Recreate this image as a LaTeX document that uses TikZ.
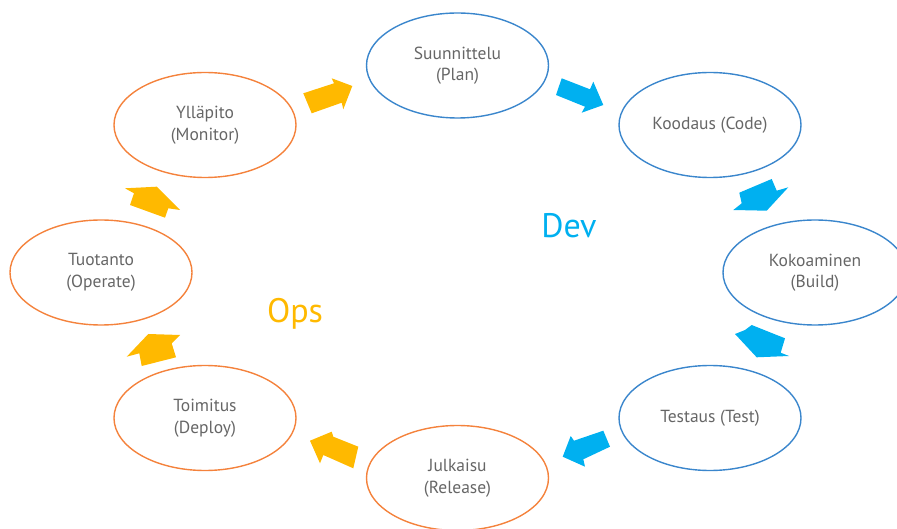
\documentclass[tikz,border=0pt]{standalone}
\usepackage{fontspec}
\setmainfont{PT Sans}
\definecolor{devline}{HTML}{3A86CC}
\definecolor{opsline}{HTML}{F4823C}
\definecolor{devfill}{HTML}{00B0F0}
\definecolor{opsfill}{HTML}{FFB900}
\definecolor{labelgrey}{HTML}{666666}
\tikzset{
  phase/.style={ellipse, minimum width=182pt, minimum height=105pt, line width=1.4pt,
    align=center, text=labelgrey, font=\fontsize{17.5}{21.5}\selectfont, inner sep=0pt},
  devphase/.style={phase, draw=devline},
  opsphase/.style={phase, draw=opsline},
  devarrow/.style={fill=devfill, draw=none},
  opsarrow/.style={fill=opsfill, draw=none},
  bigword/.style={font=\fontsize{34}{40}\selectfont, inner sep=0pt}
}
\usetikzlibrary{shapes.geometric}
\begin{document}
\begin{tikzpicture}[x=1pt,y=-1pt]
\useasboundingbox (0,0) rectangle (897,529);
% phases of the cycle
\node[devphase] (plan)    at (457.5,65.5) {Suunnittelu\\(Plan)};
\node[devphase] (code)    at (710,125)    {Koodaus (Code)};
\node[devphase, minimum width=184pt] (build) at (815,272.5) {Kokoaminen\\(Build)};
\node[devphase] (test)    at (710,418)    {Testaus (Test)};
\node[opsphase] (release) at (457.5,478)  {Julkaisu\\(Release)};
\node[opsphase] (deploy)  at (205,418)    {Toimitus\\(Deploy)};
\node[opsphase] (operate) at (101,272.5)  {Tuotanto\\(Operate)};
\node[opsphase] (monitor) at (205,125)    {Ylläpito\\(Monitor)};
% group labels
\node[bigword, text=devfill] (dev) at (569,226) {Dev};
\node[bigword, text=opsfill] (ops) at (295,314) {Ops};
% block arrows between phases
\fill[opsarrow] (303.3,93.3) -- (311.7,113.3) -- (341.7,102.7) -- (343.3,109.3)
  -- (352.3,86) -- (331.7,78.3) -- (334,83.3) -- cycle;
\fill[devarrow] (561.7,78.3) -- (556,95) -- (585,106.7) -- (581.7,112.7)
  -- (603.3,105) -- (593.3,81.7) -- (590,89.3) -- cycle;
\fill[devarrow] (739.3,192.7) -- (771.7,179) -- (776.7,190.7) -- (788.3,187.3)
  -- (766.7,210.7) -- (733.3,210) -- (741.7,203.3) -- cycle;
\fill[devarrow] (751.7,325) -- (785,338.3) -- (780.7,352.7) -- (789,356)
  -- (756.7,357.3) -- (735,334) -- (745,330) -- cycle;
\fill[devarrow] (603.3,430.7) -- (610,446.7) -- (583.3,459.3) -- (585,466.7)
  -- (562.7,456.7) -- (570.7,436) -- (574,440.7) -- cycle;
\fill[opsarrow] (358.3,446.7) -- (353.3,468.3) -- (323.3,455) -- (320,463.3)
  -- (310,440.7) -- (331.7,431.7) -- (333.3,436.7) -- cycle;
\fill[opsarrow] (141.7,366) -- (176,357.3) -- (171.7,343.3) -- (180,335)
  -- (148.3,334) -- (126.7,356.7) -- (139.3,353.3) -- cycle;
\fill[opsarrow] (130,205) -- (165,217.7) -- (168.3,208.3) -- (180,210)
  -- (156.7,186.7) -- (125,188.3) -- (134,193.3) -- cycle;
\end{tikzpicture}
\end{document}
